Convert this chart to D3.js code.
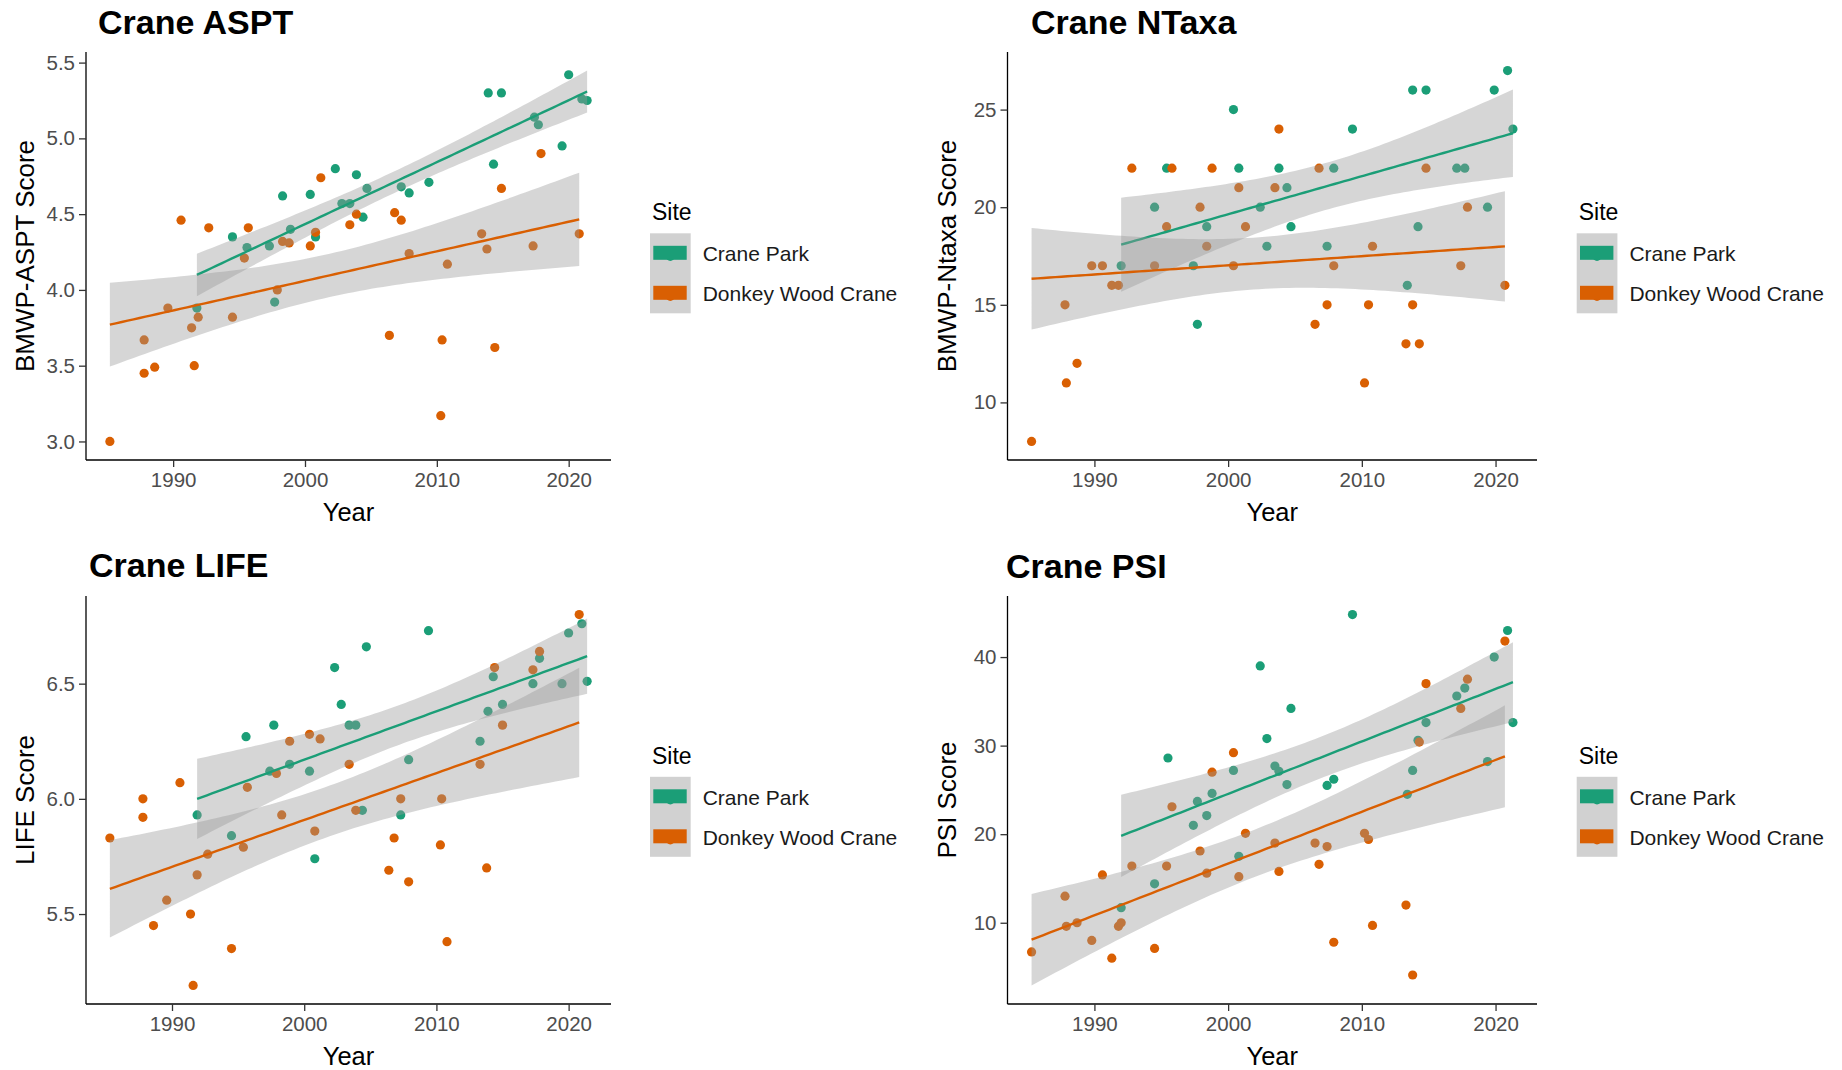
<!DOCTYPE html>
<html>
<head>
<meta charset="utf-8">
<script src="https://cdn.jsdelivr.net/npm/d3@7"></script>
<style>
  html, body { margin: 0; padding: 0; background: #ffffff; }
  svg { display: block; }
</style>
</head>
<body>
<svg id="chart" width="1842" height="1070"></svg>
<script>
// ---- Data -------------------------------------------------------------
const sites = ["Crane Park", "Donkey Wood Crane"];
const siteColors = ["#1b9e77", "#d95f02"];

const xTicks = [1990, 2000, 2010, 2020];
const asptTicks = [3.0, 3.5, 4.0, 4.5, 5.0, 5.5];
const ntaxaTicks = [10, 15, 20, 25];
const lifeTicks = [5.5, 6.0, 6.5];
const psiTicks = [10, 20, 30, 40];

// BMWP-ASPT
const asptParkYear = [1991.8, 1994.5, 1995.6, 1997.3, 1997.7, 1998.3, 1998.9, 2000.4, 2000.8, 2002.3, 2002.8, 2003.4, 2003.9, 2004.4, 2004.7, 2007.3, 2007.9, 2009.4, 2013.9, 2014.3, 2014.9, 2017.4, 2017.7, 2019.5, 2020.0, 2021.0, 2021.4];
const asptPark = [3.88, 4.35, 4.28, 4.29, 3.92, 4.62, 4.40, 4.63, 4.35, 4.80, 4.57, 4.57, 4.76, 4.48, 4.67, 4.68, 4.64, 4.71, 5.30, 4.83, 5.30, 5.14, 5.09, 4.95, 5.42, 5.26, 5.25];
const asptDonkeyYear = [1985.2, 1987.8, 1987.8, 1988.6, 1989.6, 1990.6, 1991.4, 1991.6, 1991.9, 1992.7, 1994.5, 1995.4, 1995.7, 1997.9, 1998.3, 1998.8, 2000.4, 2000.8, 2001.2, 2003.4, 2003.9, 2006.4, 2006.8, 2007.3, 2007.9, 2010.3, 2010.4, 2010.8, 2013.4, 2013.8, 2014.4, 2014.9, 2017.3, 2017.9, 2020.8];
const asptDonkey = [3.00, 3.67, 3.45, 3.49, 3.88, 4.46, 3.75, 3.50, 3.82, 4.41, 3.82, 4.21, 4.41, 4.00, 4.32, 4.31, 4.29, 4.38, 4.74, 4.43, 4.50, 3.70, 4.51, 4.46, 4.24, 3.17, 3.67, 4.17, 4.37, 4.27, 3.62, 4.67, 4.29, 4.90, 4.37];

// BMWP-Ntaxa
const ntaxaParkYear = [1992.0, 1994.5, 1995.4, 1997.4, 1997.7, 1998.4, 2000.4, 2000.8, 2002.4, 2002.9, 2003.8, 2004.4, 2004.7, 2007.4, 2007.9, 2009.3, 2013.4, 2013.8, 2014.2, 2014.8, 2017.1, 2017.7, 2019.4, 2019.9, 2020.9, 2021.3];
const ntaxaPark = [17, 20, 22, 17, 14, 19, 25, 22, 20, 18, 22, 21, 19, 18, 22, 24, 16, 26, 19, 26, 22, 22, 20, 26, 27, 24];
const ntaxaDonkeyYear = [1985.3, 1987.8, 1987.9, 1988.7, 1989.8, 1990.6, 1991.3, 1991.8, 1992.8, 1994.5, 1995.4, 1995.8, 1997.9, 1998.4, 1998.8, 2000.4, 2000.8, 2001.3, 2003.5, 2003.8, 2006.5, 2006.8, 2007.4, 2007.9, 2010.2, 2010.5, 2010.8, 2013.3, 2013.8, 2014.3, 2014.8, 2017.4, 2017.9, 2020.7];
const ntaxaDonkey = [8, 15, 11, 12, 17, 17, 16, 16, 22, 17, 19, 22, 20, 18, 22, 17, 21, 19, 21, 24, 14, 22, 15, 17, 11, 15, 18, 13, 15, 13, 22, 17, 20, 16];

// LIFE
const lifeParkYear = [1991.9, 1994.5, 1995.6, 1997.4, 1997.7, 1998.9, 2000.4, 2000.8, 2002.3, 2002.8, 2003.4, 2003.9, 2004.4, 2004.7, 2007.3, 2007.9, 2009.4, 2013.3, 2013.9, 2014.3, 2015.0, 2017.3, 2017.8, 2019.5, 2020.0, 2021.0, 2021.4];
const lifePark = [5.93, 5.84, 6.27, 6.12, 6.32, 6.15, 6.12, 5.74, 6.57, 6.41, 6.32, 6.32, 5.95, 6.66, 5.93, 6.17, 6.73, 6.25, 6.38, 6.53, 6.41, 6.50, 6.61, 6.50, 6.72, 6.76, 6.51];
const lifeDonkeyYear = [1985.3, 1987.8, 1987.8, 1988.6, 1989.6, 1990.6, 1991.4, 1991.6, 1991.9, 1992.7, 1994.5, 1995.4, 1995.7, 1997.9, 1998.3, 1998.9, 2000.4, 2000.8, 2001.2, 2003.4, 2003.9, 2006.4, 2006.8, 2007.3, 2007.9, 2010.3, 2010.4, 2010.8, 2013.3, 2013.8, 2014.4, 2015.0, 2017.3, 2017.8, 2020.8];
const lifeDonkey = [5.83, 6.00, 5.92, 5.45, 5.56, 6.07, 5.50, 5.19, 5.67, 5.76, 5.35, 5.79, 6.05, 6.11, 5.93, 6.25, 6.28, 5.86, 6.26, 6.15, 5.95, 5.69, 5.83, 6.00, 5.64, 5.80, 6.00, 5.38, 6.15, 5.70, 6.57, 6.32, 6.56, 6.64, 6.80];

// PSI
const psiParkYear = [1992.0, 1994.5, 1995.5, 1997.4, 1997.7, 1998.4, 1998.8, 2000.4, 2000.8, 2002.4, 2002.9, 2003.5, 2003.8, 2004.4, 2004.7, 2007.4, 2007.9, 2009.3, 2013.4, 2013.8, 2014.2, 2014.8, 2017.1, 2017.7, 2019.4, 2019.9, 2020.9, 2021.3];
const psiPark = [11.7, 14.4, 28.6, 21.0, 23.7, 22.1, 24.6, 27.2, 17.5, 39.0, 30.8, 27.7, 27.1, 25.6, 34.2, 25.5, 26.2, 44.8, 24.5, 27.2, 30.6, 32.6, 35.6, 36.5, 28.2, 40.0, 43.0, 32.6];
const psiDonkeyYear = [1985.3, 1987.8, 1987.9, 1988.7, 1989.8, 1990.6, 1991.3, 1991.8, 1992.0, 1992.8, 1994.5, 1995.4, 1995.8, 1997.9, 1998.4, 1998.8, 2000.4, 2000.8, 2001.3, 2003.5, 2003.8, 2006.5, 2006.8, 2007.4, 2007.9, 2010.2, 2010.5, 2010.8, 2013.3, 2013.8, 2014.3, 2014.8, 2017.4, 2017.9, 2020.7];
const psiDonkey = [6.7, 13.0, 9.6, 10.0, 8.0, 15.4, 6.0, 9.6, 10.0, 16.4, 7.1, 16.4, 23.1, 18.1, 15.6, 27.0, 29.2, 15.2, 20.1, 19.0, 15.8, 19.0, 16.6, 18.6, 7.8, 20.1, 19.4, 9.7, 12.0, 4.1, 30.4, 37.0, 34.2, 37.5, 41.8];

// ---- Layout -------------------------------------------------------------
const FONT = '"Liberation Sans", Arial, Helvetica, sans-serif';

const panels = [
  { title: "Crane ASPT", ylab: "BMWP-ASPT Score", ticks: asptTicks, fmt: ".1f",
    series: [[asptParkYear, asptPark], [asptDonkeyYear, asptDonkey]],
    box: { l: 86, r: 611, t: 52, b: 460 }, titleAt: [98, 34], legendAt: [650, 220] },
  { title: "Crane NTaxa", ylab: "BMWP-Ntaxa Score", ticks: ntaxaTicks, fmt: "d",
    series: [[ntaxaParkYear, ntaxaPark], [ntaxaDonkeyYear, ntaxaDonkey]],
    box: { l: 1007.5, r: 1537, t: 52, b: 460 }, titleAt: [1031, 34], legendAt: [1576.7, 220] },
  { title: "Crane LIFE", ylab: "LIFE Score", ticks: lifeTicks, fmt: ".1f",
    series: [[lifeParkYear, lifePark], [lifeDonkeyYear, lifeDonkey]],
    box: { l: 86, r: 611, t: 596, b: 1004 }, titleAt: [89, 577], legendAt: [650, 763.5] },
  { title: "Crane PSI", ylab: "PSI Score", ticks: psiTicks, fmt: "d",
    series: [[psiParkYear, psiPark], [psiDonkeyYear, psiDonkey]],
    box: { l: 1007.5, r: 1537, t: 596, b: 1004 }, titleAt: [1006, 578], legendAt: [1576.7, 763.5] }
];

// ---- Linear model with 95% confidence band (as geom_smooth(method = "lm")) ----
function tQuantile975(df) {
  const z = 1.959963985;
  const z3 = z ** 3, z5 = z ** 5, z7 = z ** 7;
  return z + (z3 + z) / (4 * df)
           + (5 * z5 + 16 * z3 + 3 * z) / (96 * df * df)
           + (3 * z7 + 19 * z5 + 17 * z3 - 15 * z) / (384 * df ** 3);
}

function lmBand(xs, ys, nOut = 80) {
  const n = xs.length;
  const xbar = d3.mean(xs), ybar = d3.mean(ys);
  let sxx = 0, sxy = 0;
  for (let i = 0; i < n; i++) {
    sxx += (xs[i] - xbar) ** 2;
    sxy += (xs[i] - xbar) * (ys[i] - ybar);
  }
  const b = sxy / sxx, a = ybar - b * xbar;
  let rss = 0;
  for (let i = 0; i < n; i++) rss += (ys[i] - (a + b * xs[i])) ** 2;
  const s2 = rss / (n - 2);
  const t = tQuantile975(n - 2);
  const [x0, x1] = d3.extent(xs);
  return d3.range(nOut).map(k => {
    const x = x0 + (x1 - x0) * k / (nOut - 1);
    const fit = a + b * x;
    const se = Math.sqrt(s2 * (1 / n + (x - xbar) ** 2 / sxx));
    return { x, y: fit, lo: fit - t * se, hi: fit + t * se };
  });
}

function expand(ext, mult = 0.05) {
  const d = (ext[1] - ext[0]) * mult;
  return [ext[0] - d, ext[1] + d];
}

// ---- Drawing ----------------------------------------------------------
const svg = d3.select("#chart");

panels.forEach(p => {
  const g = svg.append("g");
  const bands = p.series.map(([xs, ys]) => lmBand(xs, ys));

  const allX = p.series.flatMap(s => s[0]);
  const allY = p.series.flatMap(s => s[1])
    .concat(bands.flatMap(bd => bd.flatMap(d => [d.lo, d.hi])));

  const x = d3.scaleLinear().domain(expand(d3.extent(allX))).range([p.box.l, p.box.r]);
  const y = d3.scaleLinear().domain(expand(d3.extent(allY))).range([p.box.b, p.box.t]);

  // points
  p.series.forEach(([xs, ys], si) => {
    g.append("g").selectAll("circle")
      .data(xs.map((v, i) => [v, ys[i]]))
      .join("circle")
      .attr("cx", d => x(d[0]))
      .attr("cy", d => y(d[1]))
      .attr("r", 4.6)
      .attr("fill", siteColors[si]);
  });

  // smooth: ribbon then line, one site at a time
  const area = d3.area().x(d => x(d.x)).y0(d => y(d.lo)).y1(d => y(d.hi));
  const line = d3.line().x(d => x(d.x)).y(d => y(d.y));
  bands.forEach((bd, si) => {
    g.append("path").attr("d", area(bd))
      .attr("fill", "#999999").attr("fill-opacity", 0.4);
    g.append("path").attr("d", line(bd))
      .attr("fill", "none").attr("stroke", siteColors[si]).attr("stroke-width", 2.4);
  });

  // axes
  const xAxis = d3.axisBottom(x).tickValues(xTicks).tickFormat(d3.format("d"))
    .tickSize(7).tickSizeOuter(0).tickPadding(5);
  const yAxis = d3.axisLeft(y).tickValues(p.ticks).tickFormat(d3.format(p.fmt))
    .tickSize(7).tickSizeOuter(0).tickPadding(4);

  const gx = g.append("g").attr("transform", `translate(0,${p.box.b})`).call(xAxis);
  const gy = g.append("g").attr("transform", `translate(${p.box.l},0)`).call(yAxis);
  [gx, gy].forEach(ax => {
    ax.attr("font-family", FONT).attr("font-size", 20.5);
    ax.select(".domain").attr("stroke", "#000").attr("stroke-width", 1.3);
    ax.selectAll(".tick line").attr("stroke", "#333").attr("stroke-width", 1.3);
    ax.selectAll(".tick text").attr("fill", "#4d4d4d");
  });
  // axis lines span the whole panel
  gx.select(".domain").attr("d", `M${p.box.l},0H${p.box.r}`);
  gy.select(".domain").attr("d", `M0,${p.box.b}V${p.box.t}`);

  // axis titles
  g.append("text")
    .attr("x", (p.box.l + p.box.r) / 2).attr("y", p.box.b + 61)
    .attr("text-anchor", "middle")
    .attr("font-family", FONT).attr("font-size", 25.5).attr("fill", "#000")
    .text("Year");
  g.append("text")
    .attr("transform", `translate(${p.box.l - 52},${(p.box.t + p.box.b) / 2}) rotate(-90)`)
    .attr("text-anchor", "middle")
    .attr("font-family", FONT).attr("font-size", 26).attr("fill", "#000")
    .text(p.ylab);

  // panel title
  g.append("text")
    .attr("x", p.titleAt[0]).attr("y", p.titleAt[1])
    .attr("font-family", FONT).attr("font-size", 34).attr("font-weight", "bold").attr("fill", "#000")
    .text(p.title);

  // legend
  const [lx, ly] = p.legendAt;
  const lg = g.append("g");
  lg.append("text")
    .attr("x", lx + 2).attr("y", ly)
    .attr("font-family", FONT).attr("font-size", 23).attr("fill", "#000")
    .text("Site");
  lg.append("rect")
    .attr("x", lx).attr("y", ly + 13.3).attr("width", 40.7).attr("height", 80)
    .attr("fill", "#999999").attr("fill-opacity", 0.45);
  sites.forEach((s, i) => {
    const cy = ly + 33.3 + 40 * i;
    lg.append("circle")
      .attr("cx", lx + 20.3).attr("cy", cy + 3).attr("r", 4.6)
      .attr("fill", siteColors[i]);
    lg.append("rect")
      .attr("x", lx + 3.3).attr("y", cy - 7.5).attr("width", 33.4).attr("height", 14)
      .attr("fill", siteColors[i]);
    lg.append("text")
      .attr("x", lx + 52.7).attr("y", cy + 8)
      .attr("font-family", FONT).attr("font-size", 21).attr("fill", "#1a1a1a")
      .text(s);
  });
});
</script>
</body>
</html>
